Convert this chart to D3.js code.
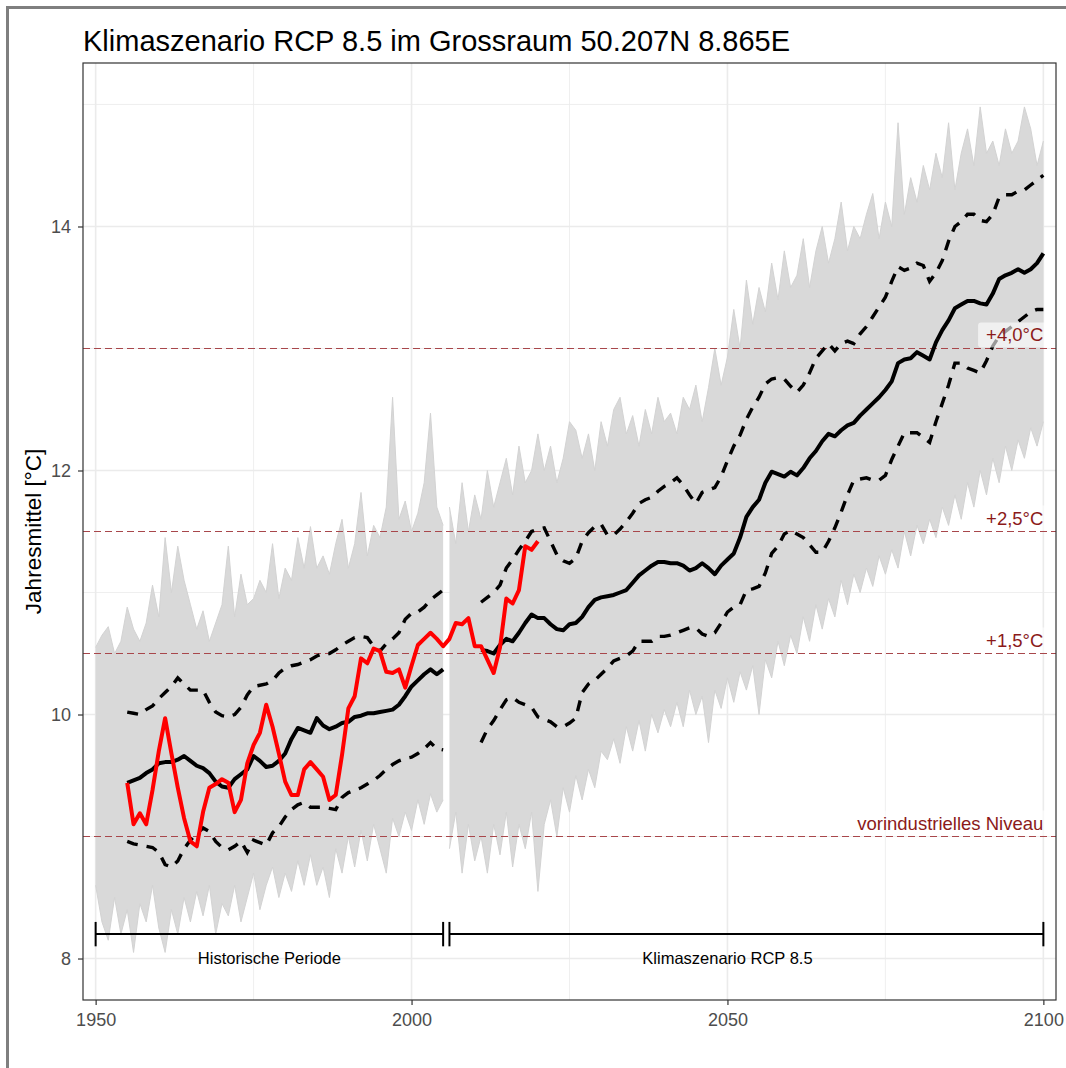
<!DOCTYPE html>
<html>
<head>
<meta charset="utf-8">
<script src="https://cdn.jsdelivr.net/npm/d3@7"></script>
<style>
  body { margin: 0; background: #fff; }
  text { font-family: "Liberation Sans", Arial, sans-serif; }
</style>
</head>
<body>
<svg id="chart" width="1066" height="1068"></svg>
<script>
// ---- data ----
// ensemble envelope (thin grey model runs), historical 1950-2005
const ensHistStart = 1950;
const ensHistHigh = [10.55, 10.65, 10.72, 10.5, 10.6, 10.88, 10.7, 10.6, 10.75, 11.06, 10.8, 11.45, 11.0, 11.38, 11.1, 10.9, 10.7, 10.85, 10.6, 10.75,
  10.9, 11.38, 10.8, 11.15, 10.9, 10.95, 11.1, 11.0, 11.4, 10.95, 11.2, 11.1, 11.45, 11.2, 11.54, 11.2, 11.3, 11.15, 11.4, 11.6,
  11.2, 11.4, 11.82, 11.3, 11.55, 11.45, 11.7, 12.6, 11.6, 11.75, 11.5, 11.65, 11.9, 12.47, 11.7, 11.55];
const ensHistLow = [8.6, 8.3, 8.15, 8.5, 8.2, 8.4, 8.05, 8.45, 8.3, 8.6, 8.25, 8.05, 8.4, 8.2, 8.5, 8.3, 8.55, 8.35, 8.6, 8.2,
  8.45, 8.35, 8.6, 8.3, 8.5, 8.7, 8.4, 8.6, 8.75, 8.5, 8.7, 8.55, 8.8, 8.6, 8.85, 8.6, 8.75, 8.5, 8.9, 8.7,
  9.0, 8.75, 9.05, 8.8, 9.1, 8.9, 8.7, 9.15, 9.0, 9.2, 9.05, 9.3, 9.1, 9.35, 9.2, 9.3];
// ensemble envelope, scenario 2006-2100
const ensScenStart = 2006;
const ensScenHigh = [11.7, 11.4, 11.9, 11.5, 11.8, 11.6, 12.0, 11.7, 11.9, 12.1, 11.8, 12.2, 11.9, 12.0, 12.3, 12.0, 12.2, 11.9, 12.1, 12.4,
  12.33, 12.1, 12.3, 12.0, 12.4, 12.2, 12.5, 12.6, 12.3, 12.45, 12.2, 12.5, 12.3, 12.6, 12.4, 12.47, 12.3, 12.6, 12.5, 12.7,
  12.4, 12.68, 13.0, 12.7, 12.93, 13.32, 13.0, 13.56, 13.2, 13.5, 13.3, 13.7, 13.4, 13.8, 13.5, 13.6, 13.9, 13.5, 13.8, 14.0,
  13.7, 13.9, 14.2, 13.8, 14.0, 13.9, 14.1, 14.27, 13.9, 14.2, 14.0, 14.85, 14.1, 14.4, 14.2, 14.5, 14.3, 14.6, 14.4, 14.85,
  14.3, 14.6, 14.8, 14.5, 14.98, 14.6, 14.7, 14.5, 14.8, 14.6, 14.7, 14.98, 14.8, 14.5, 14.7];
const ensScenLow = [8.9, 9.2, 8.7, 9.1, 8.8, 9.0, 8.7, 9.1, 8.85, 9.2, 8.75, 9.1, 8.9, 9.2, 8.55, 9.1, 9.3, 9.0, 9.4, 9.2,
  9.5, 9.3, 9.55, 9.4, 9.7, 9.63, 9.8, 9.6, 9.9, 9.7, 9.95, 9.7, 10.0, 9.85, 10.04, 9.9, 10.1, 9.9, 10.2, 10.0,
  10.15, 9.77, 10.2, 10.05, 10.3, 10.1, 10.35, 10.2, 10.4, 10.0, 10.45, 10.3, 10.6, 10.4, 10.65, 10.5, 10.8, 10.6, 10.9, 10.7,
  10.95, 10.8, 11.1, 10.9, 11.15, 11.0, 11.2, 11.05, 11.3, 11.15, 11.35, 11.2, 11.5, 11.3, 11.55, 11.4, 11.6, 11.45, 11.7, 11.55,
  11.8, 11.6, 11.9, 11.7, 12.0, 11.8, 12.1, 11.9, 12.2, 12.0, 12.25, 12.1, 12.35, 12.2, 12.4];

// ensemble mean and spread (running mean), historical 1955-2005
const histStart = 1955;
const meanHist = [9.44, 9.46, 9.48, 9.52, 9.55, 9.60, 9.61, 9.61, 9.63, 9.66, 9.62, 9.58, 9.56, 9.52, 9.45, 9.41, 9.40, 9.47, 9.51, 9.55,
  9.66, 9.62, 9.57, 9.58, 9.62, 9.68, 9.80, 9.89, 9.87, 9.85, 9.97, 9.91, 9.88, 9.90, 9.93, 9.94, 9.98, 9.99, 10.01, 10.01,
  10.02, 10.03, 10.04, 10.08, 10.15, 10.23, 10.28, 10.33, 10.37, 10.33, 10.37];
const upperHist = [10.02, 10.01, 10.0, 10.04, 10.07, 10.13, 10.18, 10.23, 10.30, 10.25, 10.20, 10.20, 10.20, 10.10, 10.02, 9.99, 9.98, 10.0, 10.06, 10.16,
  10.23, 10.24, 10.25, 10.28, 10.34, 10.38, 10.40, 10.41, 10.43, 10.45, 10.48, 10.50, 10.50, 10.53, 10.57, 10.60, 10.63, 10.64, 10.63, 10.56,
  10.52, 10.58, 10.62, 10.67, 10.78, 10.83, 10.84, 10.88, 10.94, 10.98, 11.02];
const lowerHist = [8.96, 8.94, 8.93, 8.92, 8.91, 8.87, 8.77, 8.75, 8.80, 8.90, 8.97, 9.02, 9.07, 9.04, 8.96, 8.91, 8.89, 8.92, 8.96, 8.87,
  8.97, 8.95, 8.93, 9.03, 9.08, 9.16, 9.22, 9.26, 9.28, 9.24, 9.24, 9.24, 9.23, 9.22, 9.32, 9.36, 9.38, 9.40, 9.43, 9.46,
  9.50, 9.55, 9.59, 9.62, 9.64, 9.65, 9.68, 9.72, 9.77, 9.72, 9.71];

// ensemble mean and spread, scenario 2011-2100
const scenStart = 2011;
const meanScen = [10.53, 10.52, 10.50, 10.57, 10.62, 10.60, 10.67, 10.75, 10.82, 10.79, 10.79, 10.74, 10.70, 10.69, 10.74, 10.75, 10.80, 10.88, 10.94, 10.96,
  10.97, 10.98, 11.0, 11.02, 11.08, 11.14, 11.18, 11.22, 11.25, 11.25, 11.24, 11.24, 11.22, 11.18, 11.20, 11.24, 11.20, 11.15, 11.22, 11.27,
  11.32, 11.45, 11.62, 11.70, 11.76, 11.90, 11.99, 11.97, 11.95, 11.99, 11.96, 12.02, 12.10, 12.16, 12.24, 12.30, 12.28, 12.33, 12.37, 12.39,
  12.45, 12.50, 12.55, 12.60, 12.66, 12.73, 12.88, 12.91, 12.92, 12.97, 12.94, 12.91, 13.05, 13.15, 13.23, 13.33, 13.36, 13.39, 13.39, 13.37,
  13.36, 13.45, 13.57, 13.60, 13.62, 13.65, 13.62, 13.65, 13.70, 13.78];
const upperScen = [10.92, 10.96, 11.0, 11.06, 11.2, 11.27, 11.35, 11.42, 11.5, 11.52, 11.53, 11.42, 11.31, 11.26, 11.24, 11.28, 11.42, 11.49, 11.54, 11.56,
  11.47, 11.47, 11.52, 11.58, 11.65, 11.73, 11.76, 11.78, 11.83, 11.87, 11.9, 11.94, 11.88, 11.8, 11.73, 11.82, 11.84, 11.86, 11.95, 12.08,
  12.2, 12.29, 12.42, 12.52, 12.6, 12.71, 12.75, 12.76, 12.75, 12.69, 12.64, 12.7, 12.8, 12.92, 12.98, 13.04, 12.98, 13.04, 13.06, 13.04,
  13.12, 13.18, 13.26, 13.34, 13.42, 13.55, 13.67, 13.64, 13.66, 13.70, 13.68, 13.55, 13.62, 13.72, 13.88, 14.0, 14.04, 14.1, 14.1, 14.05,
  14.04, 14.1, 14.24, 14.26, 14.26, 14.29, 14.3, 14.34, 14.38, 14.42];
const lowerScen = [9.77, 9.88, 9.95, 10.04, 10.12, 10.14, 10.1, 10.08, 10.06, 9.98, 9.96, 9.94, 9.9, 9.9, 9.93, 9.97, 10.18, 10.25, 10.28, 10.33,
  10.38, 10.44, 10.46, 10.48, 10.52, 10.6, 10.6, 10.6, 10.64, 10.64, 10.65, 10.67, 10.69, 10.71, 10.71, 10.66, 10.64, 10.67, 10.75, 10.84,
  10.88, 10.9, 11.02, 11.03, 11.05, 11.16, 11.32, 11.38, 11.48, 11.51, 11.48, 11.45, 11.39, 11.33, 11.33, 11.42, 11.53, 11.66, 11.8, 11.92,
  11.93, 11.94, 11.92, 11.92, 11.96, 12.09, 12.2, 12.31, 12.31, 12.31, 12.27, 12.23, 12.4, 12.55, 12.7, 12.88, 12.88, 12.84, 12.82, 12.8,
  12.9, 13.02, 13.1, 13.14, 13.18, 13.22, 13.26, 13.3, 13.32, 13.32];

// observed (red), 1955-2020
const obsStart = 1955;
const observed = [9.44, 9.10, 9.19, 9.10, 9.38, 9.70, 9.97, 9.68, 9.40, 9.15, 8.96, 8.92, 9.20, 9.40, 9.43, 9.47, 9.44, 9.20, 9.30, 9.60,
  9.75, 9.85, 10.08, 9.90, 9.68, 9.45, 9.34, 9.34, 9.55, 9.61, 9.55, 9.49, 9.30, 9.34, 9.67, 10.05, 10.15, 10.46, 10.42, 10.54,
  10.52, 10.35, 10.34, 10.37, 10.22, 10.40, 10.57, 10.62, 10.67, 10.62, 10.56, 10.62, 10.75, 10.74, 10.79, 10.56, 10.56, 10.45, 10.34, 10.55,
  10.95, 10.91, 11.02, 11.38, 11.35, 11.42];

// reference levels
const refLevels = [9, 10.5, 11.5, 13];
const refLabels = ["vorindustrielles Niveau", "+1,5°C", "+2,5°C", "+4,0°C"];

// periods
const periodNames = ["Historische Periode", "Klimaszenario RCP 8.5"];
const periodFrom = [1950, 2006];
const periodTo = [2005, 2100];
const periodLabelAt = [1977.5, 2050];

const xBreaks = [1950, 2000, 2050, 2100];
const xMinor = [1975, 2025, 2075];
const yBreaks = [8, 10, 12, 14];
const yMinor = [9, 11, 13, 15];

const titleText = "Klimaszenario RCP 8.5 im Grossraum 50.207N 8.865E";
const yTitle = "Jahresmittel [°C]";

// ---- drawing ----
const svg = d3.select("#chart");
const panel = {left: 83, right: 1056, top: 63, bottom: 1000};

const x = d3.scaleLinear().domain([1948, 2102]).range([panel.left, panel.right]);
const y = d3.scaleLinear().domain([7.66, 15.34]).range([panel.bottom, panel.top]);

const series = (start, vals) => vals.map((v, i) => ({year: start + i, v: v}));
const band = (start, lo, hi) => lo.map((v, i) => ({year: start + i, lo: v, hi: hi[i]}));

// outer frame (only top and left edges are inside the picture)
svg.append("path").attr("d", "M7.5,1068 V7.5 H1066")
   .attr("fill", "none").attr("stroke", "#7f7f7f").attr("stroke-width", 3);

// grid
const g = svg.append("g");
g.selectAll(".xminor").data(xMinor).join("line")
 .attr("x1", d => x(d)).attr("x2", d => x(d)).attr("y1", panel.top).attr("y2", panel.bottom)
 .attr("stroke", "#ebebeb").attr("stroke-width", 0.8);
g.selectAll(".yminor").data(yMinor).join("line")
 .attr("y1", d => y(d)).attr("y2", d => y(d)).attr("x1", panel.left).attr("x2", panel.right)
 .attr("stroke", "#ebebeb").attr("stroke-width", 0.8);
g.selectAll(".xmajor").data(xBreaks).join("line")
 .attr("x1", d => x(d)).attr("x2", d => x(d)).attr("y1", panel.top).attr("y2", panel.bottom)
 .attr("stroke", "#ebebeb").attr("stroke-width", 1.6);
g.selectAll(".ymajor").data(yBreaks).join("line")
 .attr("y1", d => y(d)).attr("y2", d => y(d)).attr("x1", panel.left).attr("x2", panel.right)
 .attr("stroke", "#ebebeb").attr("stroke-width", 1.6);

// grey model ensemble
const area = d3.area().x(d => x(d.year)).y0(d => y(d.lo)).y1(d => y(d.hi));
const edge = d3.line().x(d => x(d.year)).y(d => y(d.v));
[[ensHistStart, ensHistLow, ensHistHigh], [ensScenStart, ensScenLow, ensScenHigh]].forEach(([s, lo, hi]) => {
    svg.append("path").datum(band(s, lo, hi)).attr("d", area)
       .attr("fill", "#d9d9d9").attr("stroke", "none");
    [lo, hi].forEach(vals => {
        svg.append("path").datum(series(s, vals)).attr("d", edge)
           .attr("fill", "none").attr("stroke", "#d3d3d3").attr("stroke-width", 1);
    });
});

// reference levels
svg.selectAll(".ref").data(refLevels).join("line")
   .attr("x1", panel.left).attr("x2", panel.right)
   .attr("y1", d => y(d)).attr("y2", d => y(d))
   .attr("stroke", "#a8474b").attr("stroke-width", 1.2).attr("stroke-dasharray", "7,4");

// ensemble mean + spread
const line = d3.line().x(d => x(d.year)).y(d => y(d.v)).curve(d3.curveLinear);
[[histStart, upperHist], [histStart, lowerHist], [scenStart, upperScen], [scenStart, lowerScen]].forEach(([s, vals]) => {
    svg.append("path").datum(series(s, vals)).attr("d", line)
       .attr("fill", "none").attr("stroke", "#000").attr("stroke-width", 3.4)
       .attr("stroke-dasharray", "11,9");
});
[[histStart, meanHist], [scenStart, meanScen]].forEach(([s, vals]) => {
    svg.append("path").datum(series(s, vals)).attr("d", line)
       .attr("fill", "none").attr("stroke", "#000").attr("stroke-width", 4)
       .attr("stroke-linejoin", "round");
});

// observed
svg.append("path").datum(series(obsStart, observed)).attr("d", line)
   .attr("fill", "none").attr("stroke", "#ff0000").attr("stroke-width", 4)
   .attr("stroke-linejoin", "round");

// reference labels (semi-transparent label boxes)
const labG = svg.append("g");
refLevels.forEach((lv, i) => {
    const t = labG.append("text").attr("x", x(2100)).attr("y", y(lv) - 7)
        .attr("text-anchor", "end").attr("font-size", 18.5).attr("fill", "#8b1a1a")
        .text(refLabels[i]);
    const bb = t.node().getBBox();
    labG.insert("rect", "text").attr("x", bb.x - 8).attr("y", bb.y - 2)
        .attr("width", bb.width + 16).attr("height", bb.height + 4).attr("rx", 3)
        .attr("fill", "#fff").attr("fill-opacity", 0.6);
});

// period bars
const barY = 8.2, capH = 0.1;
periodNames.forEach((name, i) => {
    const pg = svg.append("g").attr("stroke", "#000").attr("stroke-width", 2);
    pg.append("line").attr("x1", x(periodFrom[i])).attr("x2", x(periodTo[i]))
      .attr("y1", y(barY)).attr("y2", y(barY));
    [periodFrom[i], periodTo[i]].forEach(yr => {
        pg.append("line").attr("x1", x(yr)).attr("x2", x(yr))
          .attr("y1", y(barY - capH)).attr("y2", y(barY + capH));
    });
    svg.append("text").attr("x", x(periodLabelAt[i])).attr("y", y(8)).attr("dy", "0.35em")
       .attr("text-anchor", "middle").attr("font-size", 16.5).attr("fill", "#000").text(name);
});

// panel border
svg.append("rect").attr("x", panel.left).attr("y", panel.top)
   .attr("width", panel.right - panel.left).attr("height", panel.bottom - panel.top)
   .attr("fill", "none").attr("stroke", "#333").attr("stroke-width", 1.2);

// axes
const xAxis = svg.append("g").attr("transform", `translate(0,${panel.bottom})`)
   .call(d3.axisBottom(x).tickValues(xBreaks).tickFormat(d3.format("d")).tickSize(5).tickPadding(8));
const yAxis = svg.append("g").attr("transform", `translate(${panel.left},0)`)
   .call(d3.axisLeft(y).tickValues(yBreaks).tickSize(5).tickPadding(7));
[xAxis, yAxis].forEach(a => {
    a.select(".domain").remove();
    a.selectAll(".tick line").attr("stroke", "#333").attr("stroke-width", 1.2);
    a.selectAll(".tick text").attr("fill", "#4d4d4d").attr("font-size", 18)
     .attr("font-family", "Liberation Sans, Arial, sans-serif");
});

// titles
svg.append("text").attr("x", panel.left).attr("y", 51).attr("font-size", 29)
   .attr("fill", "#000").text(titleText);
svg.append("text").attr("transform", `translate(41,${(panel.top + panel.bottom) / 2}) rotate(-90)`)
   .attr("text-anchor", "middle").attr("font-size", 22.5).attr("fill", "#000").text(yTitle);
</script>
</body>
</html>
